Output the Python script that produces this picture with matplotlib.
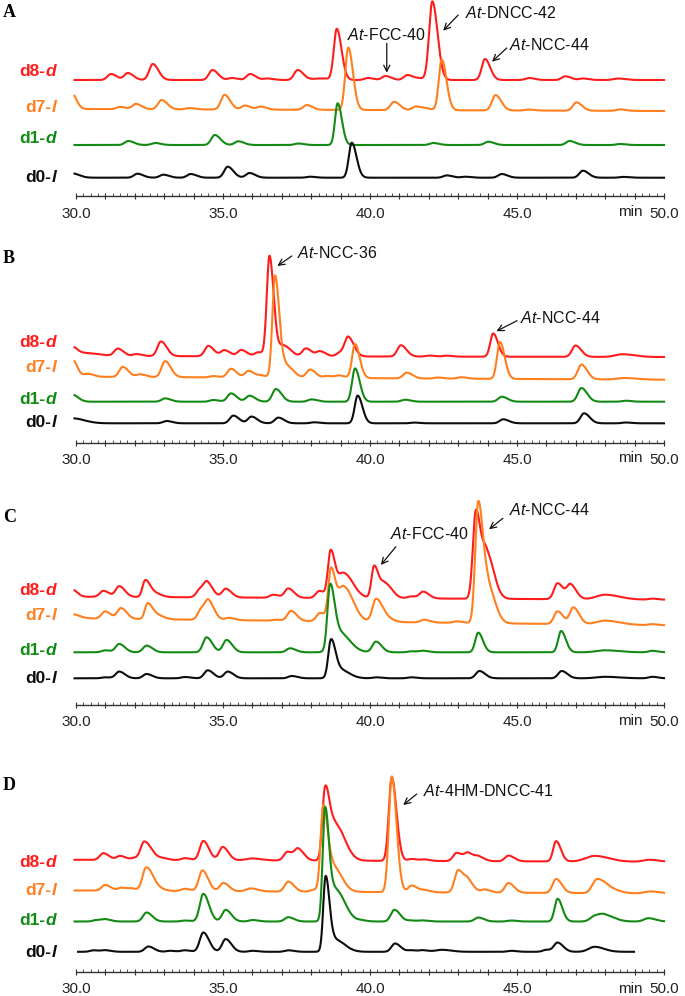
import numpy as np
import matplotlib
matplotlib.use("Agg")
import matplotlib.pyplot as plt
from matplotlib.ticker import MultipleLocator, FuncFormatter

plt.rcParams['font.family'] = ['Liberation Sans', 'DejaVu Sans']
plt.rcParams['mathtext.fontset'] = 'custom'
plt.rcParams['mathtext.rm'] = 'Liberation Sans'
plt.rcParams['mathtext.it'] = 'Liberation Sans:italic'
plt.rcParams['mathtext.sf'] = 'Liberation Sans:bold:italic'

# ---------------- data: peak tables (retention time [min], height, width) ----------------
trace_names = ['d8', 'd7', 'd1', 'd0']
trace_suffix = ['d', 'l', 'd', 'l']
x_ticks = [30.0, 35.0, 40.0, 45.0, 50.0]

A_d8 = [(31.19, 6), (31.76, 7), (32.61, 16), (34.64, 10), (35.3, 2), (35.92, 6), (36.5, 1.5),
        (37.54, 10), (38.3, 1.5, 0.25), (38.87, 50.7, 0.1), (39.93, 2), (40.53, 4, 0.12),
        (41.27, 5, 0.12), (41.7, 1.5, 0.15), (42.12, 78.3, 0.11), (43.91, 21, 0.11),
        (45.41, 2, 0.12), (46.64, 3.7, 0.12), (47.24, 1.5), (48.43, 1.5, 0.15)]
A_d7 = [(29.85, 16, 0.1), (31.5, 2.3), (32.04, 5.3), (32.91, 9.3), (33.85, 1.3), (35.05, 14.7),
        (35.75, 4), (36.28, 3), (37.85, 4.7), (39.26, 62.3, 0.1), (40.82, 8.3), (41.56, 3.7),
        (41.9, 1.5), (42.44, 50.7, 0.1), (44.27, 15.3), (45.4, 1), (47.02, 8.3), (48.5, 1.5)]
A_d1 = [(31.78, 4), (32.69, 2), (34.72, 10), (35.52, 3.7), (37.56, 1.5), (38.9, 41.7, 0.09),
        (42.15, 2), (44.02, 3.3), (46.79, 4), (48.5, 1)]
A_d0 = [(29.85, 4.5, 0.15), (32.09, 4), (32.97, 3), (33.9, 3.7), (35.16, 11), (35.9, 4.7),
        (37.96, 1), (39.38, 35, 0.1), (42.61, 2.3), (43.23, 1), (44.48, 3.7), (47.24, 7), (48.6, 0.8)]

B_d8 = [(29.88, 8, 0.1), (30.3, 3, 0.3), (31.42, 7.3), (32.06, 2), (32.89, 14.7), (34.5, 10.3),
        (35.05, 6), (35.62, 6.3), (36.2, 4), (36.58, 100, 0.09), (37.05, 11, 0.15), (37.82, 8),
        (38.3, 5), (38.98, 3.7), (39.26, 18.7), (41.05, 11.3), (42.0, 1), (42.6, 1),
        (44.19, 23.3, 0.1), (46.99, 11.3), (48.6, 2.7, 0.25)]
B_d7 = [(29.88, 17, 0.1), (30.4, 3), (31.59, 10), (32.18, 2.7), (33.03, 16), (34.67, 1.3),
        (35.27, 8.7), (35.87, 6.7), (36.3, 2), (36.77, 101.7, 0.09), (37.15, 12, 0.15),
        (37.96, 8.3), (38.55, 2), (38.95, 2.5), (39.49, 34, 0.1), (41.25, 5.7), (42.3, 1),
        (43.1, 1.5), (44.42, 37, 0.1), (47.19, 14.7), (48.68, 1.5, 0.25)]
B_d1 = [(29.88, 7, 0.12), (33.03, 3.3), (34.67, 1.7), (35.27, 8.3), (35.9, 6), (36.8, 12.7),
        (38.01, 2.3), (39.49, 33.3, 0.1), (41.19, 2), (44.48, 5), (47.19, 13.7), (48.7, 1)]
B_d0 = [(29.88, 5, 0.25), (33.08, 2.3), (35.35, 7.7), (35.97, 6.7), (36.88, 5.7), (38.1, 1),
        (39.58, 27.7, 0.1), (41.5, 0.7), (44.53, 4), (47.28, 10), (48.7, 0.8)]

C_d8 = [(29.88, 7, 0.1), (30.93, 6), (31.47, 10.7), (32.35, 15.7, 0.09), (32.6, 5, 0.15),
        (34.22, 8), (34.47, 12.7), (35.09, 8.7), (36.71, 3), (37.22, 9.3), (38.28, 7),
        (38.66, 45, 0.09), (39.1, 25, 0.2), (40.14, 31.7, 0.09), (40.5, 15, 0.15), (41.4, 2),
        (41.81, 6.7), (43.6, 86.7, 0.1), (43.97, 45, 0.15), (46.38, 16), (46.82, 14.3),
        (48.0, 4.7, 0.3), (49.6, 1)]
C_d7 = [(29.88, 4, 0.15), (30.99, 7.3), (31.53, 10.7), (32.43, 15, 0.09), (32.7, 5, 0.15),
        (34.27, 10.7), (34.52, 15.7), (35.2, 2.3), (36.8, 1), (37.31, 10), (38.3, 8.3),
        (38.67, 49, 0.09), (39.1, 35, 0.2), (40.2, 22.3), (40.5, 5, 0.15), (41.84, 2.7),
        (42.95, 1.5), (43.68, 119.3, 0.1), (44.02, 35, 0.15), (46.38, 12.7), (46.92, 16.7),
        (48.0, 4, 0.3), (49.6, 1)]
C_d1 = [(30.99, 2), (31.47, 8.3), (32.4, 6.7), (34.44, 15), (35.12, 12.3), (37.28, 4),
        (38.64, 60.7, 0.09), (38.95, 20, 0.22), (40.2, 10.7), (41.4, 1), (41.8, 1.5),
        (43.68, 19.7, 0.1), (46.5, 21.3, 0.1), (48.0, 2, 0.3), (49.6, 1.5)]
C_d0 = [(30.99, 1), (31.47, 6.7), (32.4, 4.3), (33.7, 1.3), (34.48, 8), (35.16, 6.7),
        (37.34, 2.3), (38.67, 35.7, 0.09), (38.95, 9, 0.2), (40.2, 1), (41.4, 1),
        (43.72, 7.3), (46.52, 7.3), (48.0, 1.5, 0.3), (49.6, 1.5)]

D_d8 = [(30.93, 6.7), (31.5, 4), (32.0, 2), (32.32, 17.3), (32.6, 4, 0.15), (33.0, 1), (33.7, 2),
        (34.33, 19.3), (34.99, 13.3), (35.98, 2, 0.2), (37.19, 8.7), (37.56, 11),
        (38.47, 66.7, 0.09), (38.82, 36, 0.2), (40.74, 83.3, 0.1), (41.42, 2), (41.85, 1.5),
        (42.95, 8.3), (43.34, 7.7), (43.7, 4), (44.71, 5.7), (46.33, 20.3, 0.1),
        (47.64, 5.7, 0.3), (49.5, 2, 0.2)]
D_d7 = [(30.99, 5.7), (31.55, 3), (31.9, 2), (32.38, 22.3), (32.65, 5, 0.15), (33.7, 2.3),
        (34.3, 20.7), (35.01, 8.3), (35.94, 3, 0.15), (37.22, 10), (38.1, 2),
        (38.41, 82.3, 0.09), (38.75, 25, 0.18), (40.74, 115.7, 0.1), (41.42, 6.7), (41.85, 2),
        (43.0, 22.3), (43.34, 10), (43.9, 3), (44.71, 9.7), (46.33, 14), (47.71, 13.3, 0.15),
        (48.1, 5, 0.2), (49.54, 2, 0.2)]
D_d1 = [(30.7, 1.5), (31.0, 2), (32.4, 9), (33.7, 1), (34.33, 27.7), (35.09, 11.7), (36.0, 1.5),
        (37.22, 4.3), (38.47, 107.3, 0.08), (38.82, 32, 0.2), (39.7, 1), (40.83, 11.7),
        (41.4, 1), (41.8, 1), (43.68, 4), (44.8, 1), (46.38, 22.7, 0.1), (47.64, 5, 0.15),
        (48.0, 5.7, 0.2), (49.47, 3.3, 0.15)]
D_d0 = [(30.6, 1.5), (31.0, 1.5), (32.46, 5.3), (33.2, 1), (33.7, 1.5), (34.33, 19.3),
        (35.09, 12.7), (36.0, 1), (37.22, 1.5), (38.49, 72.7, 0.08), (38.82, 12, 0.2),
        (40.85, 8.3), (41.4, 1.5), (41.8, 1.5), (42.44, 2, 0.2), (44.8, 1), (46.0, 2),
        (46.38, 9), (47.64, 5, 0.2)]

# baseline drift between 30 and 50 min (signal units)
drift = {('A', 'd7'): -2, ('B', 'd8'): -1, ('B', 'd7'): -3, ('C', 'd8'): -3, ('C', 'd7'): -7,
         ('D', 'd8'): -2, ('D', 'd7'): -3}
# recorded time window for each trace (min)
t_range = {('D', 'd0'): (30.07, 48.98)}

peaks = {
    'A': [A_d8, A_d7, A_d1, A_d0],
    'B': [B_d8, B_d7, B_d1, B_d0],
    'C': [C_d8, C_d7, C_d1, C_d0],
    'D': [D_d8, D_d7, D_d1, D_d0],
}

annotations = {
    'A': [('At', '-FCC-40', (40.57, 123.8), (40.57, 153.2), (40.57, 156.5), 'center'),
          ('At', '-DNCC-42', (42.49, 165.8), (43.0, 181.5), (43.23, 178.0), 'left'),
          ('At', '-NCC-44', (44.15, 134.8), (44.65, 148.5), (44.74, 146.5), 'left')],
    'B': [('At', '-NCC-36', (36.85, 176.7), (37.34, 186.7), (37.51, 184.4), 'left'),
          ('At', '-NCC-44', (44.3, 111.5), (45.0, 122.0), (45.11, 119.4), 'left')],
    'C': [('At', '-FCC-40', (40.37, 140.0), (40.88, 158.3), (40.68, 165.7), 'left'),
          ('At', '-NCC-44', (44.05, 175.7), (44.52, 186.7), (44.74, 190.0), 'left')],
    'D': [('At', '-4HM-DNCC-41', (41.13, 166.5), (41.59, 177.5), (41.79, 175.5), 'left')],
}

# ---------------- layout (pixels) ----------------
W, H = 685, 996
colors = ['#ff1c1c', '#ff7f1e', '#138a13', '#0d0d0d']
panel_spine = {'A': 196.5, 'B': 442.7, 'C': 705.0, 'D': 971.5}
panel_top = {'A': 0.0, 'B': 240.0, 'C': 495.0, 'D': 765.0}
offsets = {'A': [116.5, 87.5, 51.5, 18.8], 'B': [86.7, 66.0, 41.0, 19.4],
           'C': [108.3, 86.7, 52.7, 26.7], 'D': [111.7, 81.0, 50.0, 19.7]}
label_base = {'A': [76, 112, 143, 182], 'B': [346.7, 371.7, 404, 426.7],
              'C': [595, 620, 655, 683], 'D': [867, 895, 925, 957]}
letter_base = {'A': 17, 'B': 263, 'C': 522, 'D': 790}
x_left, x_right = 76.0, 664.0

fig = plt.figure(figsize=(W / 100, H / 100), dpi=100)


def fx(px):
    return px / W


def fy(py):
    return 1 - py / H


def trace(t, plist, tail=1.6, w_default=0.12):
    y = np.zeros_like(t)
    for p in plist:
        rt, h = p[0], p[1]
        w = p[2] if len(p) > 2 else w_default
        s = np.where(t < rt, w, w * tail)
        y += h * np.exp(-0.5 * ((t - rt) / s) ** 2)
    return y


for key in ['A', 'B', 'C', 'D']:
    sp, tp = panel_spine[key], panel_top[key]
    hpx = sp - tp
    ax = fig.add_axes([fx(x_left), fy(sp), fx(x_right - x_left), hpx / H])
    ax.set_xlim(30, 50)
    ax.set_ylim(0, hpx)
    ax.patch.set_alpha(0)
    for s in ['top', 'right', 'left']:
        ax.spines[s].set_visible(False)
    ax.spines['bottom'].set_linewidth(1.0)
    ax.spines['bottom'].set_color('#333333')
    ax.set_yticks([])
    ax.xaxis.set_major_locator(MultipleLocator(1.0))
    ax.xaxis.set_minor_locator(MultipleLocator(0.25))
    ax.xaxis.set_major_formatter(FuncFormatter(
        lambda v, p: ('%.1f' % v) if any(abs(v - k) < 1e-6 for k in x_ticks) else ''))
    ax.tick_params(axis='x', which='major', direction='inout', length=5, width=0.8,
                   color='#333333', labelsize=11, pad=5, labelcolor='#222222')
    ax.tick_params(axis='x', which='minor', direction='in', length=2.5, width=0.6,
                   color='#333333')
    # "min" unit label
    ax.text(48.85, -15.5 if key != 'D' else -17.5, 'min', ha='center', va='center',
            fontsize=11, color='#222222')

    for i, name in enumerate(trace_names):
        t0, t1 = t_range.get((key, name), (29.95, 50.0))
        t = np.linspace(t0, t1, 2400)
        d = drift.get((key, name), 0.0)
        y = offsets[key][i] + trace(t, peaks[key][i]) + d * (t - 30) / 20
        ax.plot(t, y, color=colors[i], lw=1.5, clip_on=False, solid_joinstyle='round')

        # trace label "d8-" + bold-italic suffix
        tl = fig.text(fx(58), fy(label_base[key][i]), '$\\mathsf{%s}$' % trace_suffix[i],
                      ha='right', va='baseline', fontsize=12.5, color=colors[i])
        ax.annotate(name + '-', xy=(0, 0), xycoords=tl, ha='right', va='bottom',
                    fontsize=12.5, fontweight='bold', color=colors[i], annotation_clip=False)

    for it, rest, head, tail_pt, txt, ha in annotations[key]:
        ax.annotate('', xy=head, xytext=tail_pt,
                    arrowprops=dict(arrowstyle='->', lw=0.9, color='#111111',
                                    shrinkA=0, shrinkB=0, mutation_scale=11),
                    annotation_clip=False)
        ax.text(txt[0], txt[1], '$\\mathit{%s}$%s' % (it, rest), ha=ha, va='baseline',
                fontsize=11.5, color='#111111', clip_on=False)

    fig.text(fx(3), fy(letter_base[key]), key, fontsize=13, fontweight='bold',
             family='Liberation Serif', ha='left', va='baseline')

fig.savefig('out.png', dpi=100)
